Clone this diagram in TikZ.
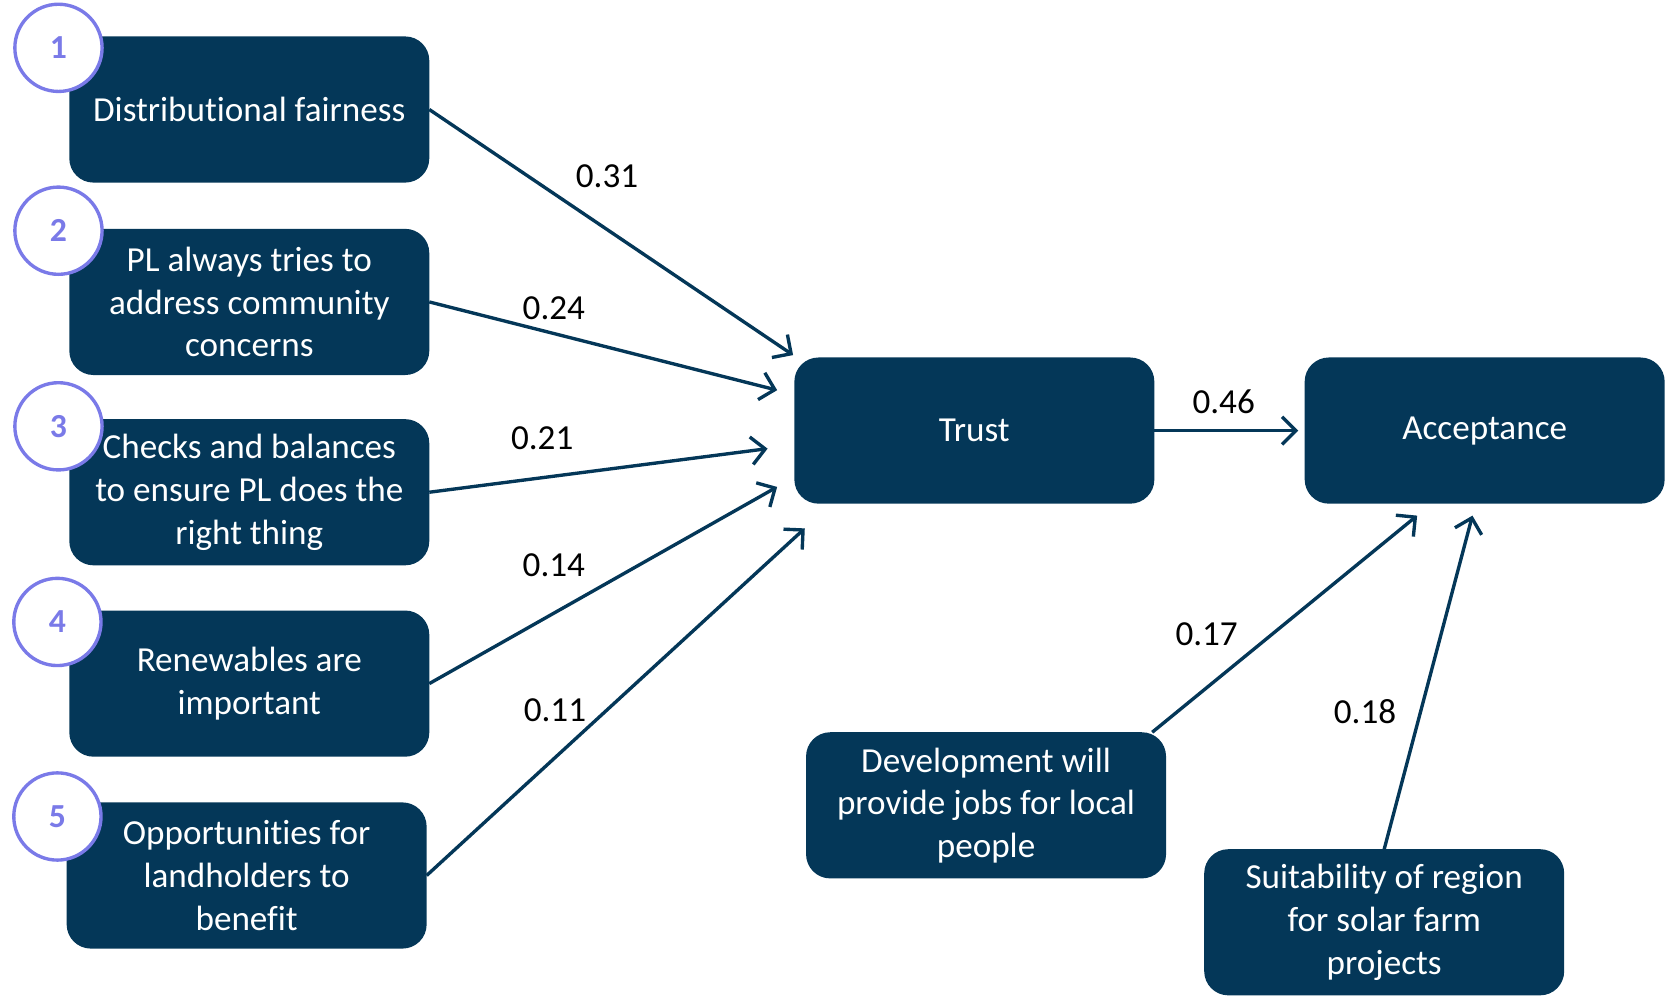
\documentclass[tikz,border=0pt]{standalone}
\usepackage{fontspec}
\setmainfont{Carlito}[Ligatures=CommonOff]
\usetikzlibrary{arrows.meta,calc}
\definecolor{navy}{RGB}{4,55,88}
\definecolor{lav}{RGB}{122,122,232}
\begin{document}
\begin{tikzpicture}[x=0.01cm,y=-0.01cm,
 box/.style={draw=navy, fill=navy, rounded corners=0.22cm, minimum width=3.37cm, minimum height=1.36cm, text=white, align=center, font=\fontsize{9.4}{11.4}\selectfont, inner sep=0pt},
 num/.style={circle, draw=lav, fill=white, line width=0.9pt, minimum size=0.82cm, text=lav, font=\fontsize{9}{10}\selectfont\bfseries, inner sep=0pt},
 link/.style={draw=navy, line width=0.9pt, -{Straight Barb[length=1.3mm,width=2.6mm]}},
 lab/.style={font=\fontsize{9.4}{10}\selectfont, text=black, inner sep=0pt}
]
\useasboundingbox (0,0) rectangle (1568,936);
% left boxes
\node[box] (b1) at (234.5,103) {Distributional fairness};
\node[box] (b2) at (234.5,284) {PL always tries to\\address community\\concerns};
\node[box] (b3) at (234.5,463) {Checks and balances\\to ensure PL does the\\right thing};
\node[box] (b4) at (234.5,643) {Renewables are\\important};
\node[box] (b5) at (232,823.5) {Opportunities for\\landholders to\\benefit};
% right boxes
\node[box] (trust) at (916.5,405) {Trust};
\node[box] (acc) at (1396.5,405) {Acceptance};
\node[box] (dev) at (927.5,757.5) {Development will\\provide jobs for local\\people};
\node[box] (suit) at (1302,867.5) {Suitability of region\\for solar farm\\projects};
% number circles
\node[num] (n1) at (55,45) {1};
\node[num] (n2) at (55,217) {2};
\node[num] (n3) at (55,401) {3};
\node[num] (n4) at (54,585) {4};
\node[num] (n5) at (54,768) {5};
% arrow ends
\coordinate (t1) at (746,334);
\coordinate (t2) at (731,367);
\coordinate (t3) at (722,422);
\coordinate (t4) at (731,458);
\coordinate (t5) at (757,497);
\coordinate (a1) at (1333,485);
\coordinate (a2) at (1385,485);
% connectors
\draw[link] (b1.east) -- (t1);
\draw[link] (b2.east) -- (t2);
\draw[link] (b3.east) -- (t3);
\draw[link] (b4.east) -- (t4);
\draw[link] (b5.east) -- (t5);
\draw[link, shorten >=0.06cm] (trust.east) -- (acc.west);
\draw[link] ($(dev.north east)+(-13,0)$) -- (a1);
\draw[link] (suit.north) -- (a2);
% labels
\node[lab] (l1) at (571,166) {0.31};
\node[lab] (l2) at (521,290) {0.24};
\node[lab] (l3) at (510,412) {0.21};
\node[lab] (l4) at (521,532) {0.14};
\node[lab] (l5) at (522,668) {0.11};
\node[lab] (l6) at (1151,378) {0.46};
\node[lab] (l7) at (1135,597) {0.17};
\node[lab] (l8) at (1284,669) {0.18};
\end{tikzpicture}
\end{document}
